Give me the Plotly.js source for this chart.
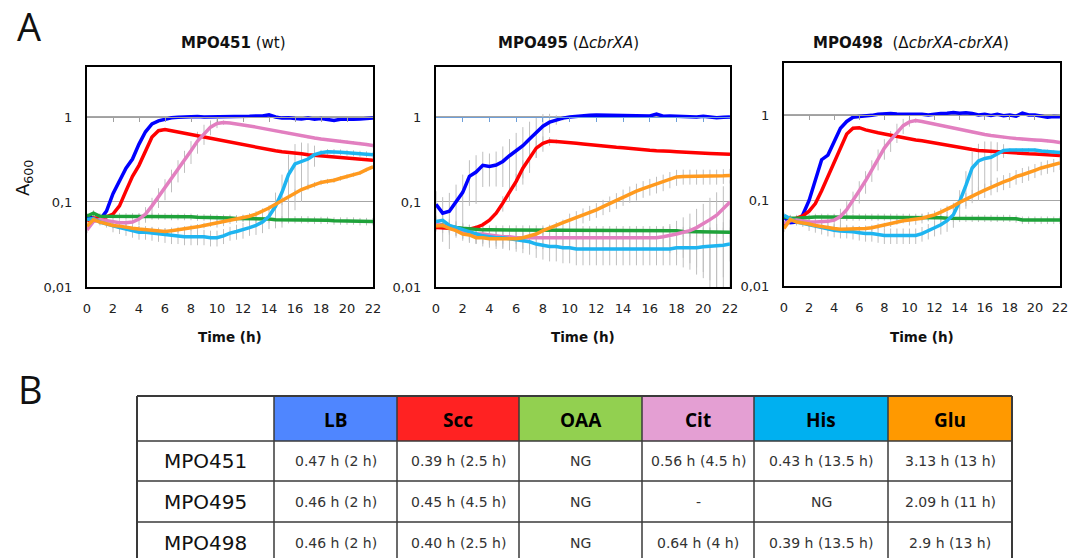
<!DOCTYPE html>
<html><head><meta charset="utf-8">
<script src="https://cdn.plot.ly/plotly-3.0.1.min.js"></script>
<style>html,body{margin:0;padding:0;background:#fff;}#chart{width:1083px;height:558px;}</style>
</head><body><div id="chart"></div>
<script>
// ---------- DATA ----------
const T = [0,0.5,1,1.5,2,2.5,3,3.5,4,4.5,5,5.5,6,6.5,7,7.5,8,8.5,9,9.5,10,10.5,11,11.5,12,12.5,13,13.5,14,14.5,15,15.5,16,16.5,17,17.5,18,18.5,19,19.5,20,20.5,21,21.5,22];
const xTickVals = [0,2,4,6,8,10,12,14,16,18,20,22];
const yTickVals = [0.01,0.1,1];
const yTickText = ['0,01','0,1','1'];
const media = ['LB','Scc','OAA','Cit','His','Glu'];
const mediaColors = ['#0000ff','#ff0000','#1fa23a','#e27fc0','#1eb4f0','#ff9a1f'];
const headerColors = ['#ffffff','#4f86ff','#ff2222','#92d050','#e49fd3','#00b0f0','#ff9900'];
const panelTitles = ['<b>MPO451</b> (wt)','<b>MPO495</b> (\u0394<i>cbrXA</i>)','<b>MPO498</b>\u00a0\u00a0(\u0394<i>cbrXA-cbrXA</i>)'];

// Panel 1: MPO451 (wt)
const p1_LB  = [0.068,0.064,0.062,0.078,0.125,0.18,0.25,0.32,0.48,0.67,0.83,0.9,0.95,0.98,0.99,1.0,1.0,1.01,1.0,1.0,1.0,1.01,1.0,1.02,1.0,1.02,1.03,1.03,1.06,1.0,0.97,0.98,0.96,0.95,0.97,0.94,0.96,0.93,0.91,0.94,0.93,0.94,0.95,0.96,0.97];
const p1_Scc = [0.06,0.065,0.065,0.067,0.072,0.09,0.135,0.2,0.27,0.4,0.58,0.69,0.71,0.69,0.67,0.65,0.63,0.6,0.58,0.56,0.54,0.52,0.5,0.485,0.47,0.455,0.44,0.425,0.41,0.4,0.39,0.385,0.38,0.37,0.36,0.355,0.35,0.348,0.345,0.34,0.33,0.325,0.32,0.315,0.31];
const p1_OAA = [0.068,0.074,0.068,0.068,0.068,0.068,0.068,0.068,0.068,0.068,0.068,0.068,0.068,0.067,0.067,0.067,0.067,0.066,0.066,0.066,0.065,0.065,0.065,0.064,0.064,0.064,0.063,0.063,0.063,0.062,0.062,0.062,0.062,0.062,0.062,0.061,0.061,0.061,0.06,0.06,0.06,0.06,0.059,0.059,0.059];
const p1_Cit = [0.047,0.059,0.062,0.06,0.058,0.057,0.057,0.058,0.063,0.072,0.09,0.115,0.145,0.185,0.24,0.31,0.4,0.52,0.64,0.76,0.84,0.86,0.85,0.83,0.81,0.785,0.76,0.735,0.71,0.685,0.66,0.64,0.62,0.6,0.58,0.565,0.55,0.54,0.53,0.52,0.51,0.5,0.49,0.475,0.46];
const p1_His = [0.062,0.064,0.058,0.055,0.052,0.05,0.048,0.046,0.044,0.044,0.043,0.042,0.041,0.04,0.04,0.039,0.039,0.039,0.039,0.038,0.038,0.04,0.043,0.045,0.047,0.05,0.053,0.058,0.068,0.089,0.13,0.21,0.28,0.3,0.32,0.36,0.38,0.39,0.39,0.385,0.38,0.375,0.37,0.365,0.36];
const p1_Glu = [0.052,0.062,0.058,0.055,0.053,0.052,0.05,0.049,0.048,0.047,0.046,0.045,0.045,0.046,0.047,0.048,0.05,0.051,0.053,0.055,0.056,0.058,0.061,0.063,0.065,0.068,0.072,0.078,0.085,0.094,0.104,0.115,0.128,0.14,0.15,0.16,0.17,0.175,0.18,0.19,0.2,0.21,0.22,0.24,0.26];
const p1_errCit = [0.004,0.004,0.004,0.004,0.004,0.004,0.004,0.004,0.01,0.015,0.022,0.03,0.04,0.055,0.07,0.09,0.12,0.15,0.17,0.15,0.1,0.05,0.02,0.02,0.02,0.02,0.02,0.02,0.02,0.02,0.02,0.02,0.02,0.02,0.02,0.02,0.02,0.02,0.02,0.02,0.02,0.02,0.02,0.02,0.02];
const p1_errHis = [0.005,0.005,0.005,0.005,0.008,0.008,0.008,0.008,0.008,0.008,0.008,0.008,0.008,0.008,0.008,0.008,0.008,0.008,0.008,0.008,0.008,0.008,0.008,0.009,0.01,0.01,0.012,0.015,0.02,0.04,0.08,0.15,0.2,0.2,0.17,0.1,0.03,0.03,0.03,0.03,0.03,0.03,0.03,0.03,0.03];
const p1_errGlu = [0.004,0.004,0.004,0.004,0.004,0.004,0.004,0.004,0.004,0.004,0.004,0.004,0.004,0.004,0.004,0.004,0.004,0.004,0.004,0.004,0.006,0.006,0.006,0.006,0.006,0.006,0.006,0.006,0.006,0.006,0.012,0.012,0.012,0.012,0.012,0.012,0.012,0.012,0.012,0.012,0.012,0.012,0.012,0.012,0.012];

// Panel 2: MPO495 (ΔcbrXA)
const p2_LB  = [0.094,0.074,0.078,0.1,0.13,0.2,0.225,0.27,0.262,0.272,0.3,0.35,0.4,0.46,0.55,0.66,0.78,0.87,0.93,0.97,1.0,1.02,1.04,1.05,1.055,1.05,1.05,1.04,1.03,1.03,1.03,1.03,1.03,1.08,1.02,1.03,1.02,1.02,1.01,1.0,1.02,0.99,0.98,0.99,1.0];
const p2_Scc = [0.05,0.05,0.049,0.048,0.048,0.048,0.05,0.054,0.061,0.074,0.097,0.13,0.175,0.25,0.33,0.43,0.49,0.52,0.515,0.51,0.5,0.49,0.48,0.47,0.46,0.45,0.445,0.44,0.435,0.425,0.42,0.41,0.405,0.4,0.4,0.395,0.39,0.385,0.38,0.38,0.377,0.373,0.37,0.367,0.365];
const p2_OAA = [0.055,0.053,0.051,0.05,0.049,0.048,0.047,0.047,0.047,0.047,0.047,0.047,0.047,0.047,0.047,0.047,0.047,0.046,0.046,0.046,0.046,0.046,0.046,0.046,0.046,0.046,0.046,0.046,0.046,0.046,0.046,0.046,0.046,0.046,0.046,0.046,0.046,0.045,0.045,0.045,0.044,0.044,0.044,0.044,0.044];
const p2_Cit = [0.055,0.053,0.051,0.048,0.045,0.043,0.042,0.042,0.041,0.04,0.039,0.039,0.038,0.038,0.038,0.038,0.038,0.038,0.038,0.038,0.038,0.038,0.038,0.038,0.038,0.038,0.038,0.038,0.038,0.038,0.038,0.038,0.038,0.038,0.039,0.04,0.042,0.044,0.046,0.05,0.055,0.062,0.07,0.083,0.1];
const p2_His = [0.059,0.061,0.053,0.05,0.047,0.044,0.042,0.04,0.039,0.038,0.038,0.037,0.036,0.035,0.034,0.032,0.031,0.03,0.03,0.029,0.029,0.028,0.028,0.028,0.028,0.028,0.028,0.028,0.028,0.028,0.028,0.028,0.028,0.028,0.028,0.028,0.029,0.029,0.029,0.029,0.0297,0.03,0.031,0.031,0.032];
const p2_Glu = [0.052,0.053,0.049,0.046,0.042,0.041,0.038,0.038,0.037,0.037,0.037,0.037,0.037,0.038,0.04,0.042,0.046,0.049,0.053,0.057,0.061,0.065,0.07,0.075,0.081,0.088,0.096,0.105,0.115,0.125,0.134,0.144,0.153,0.162,0.172,0.185,0.197,0.2,0.2,0.2,0.2,0.2,0.2,0.203,0.205];
const p2_errLB  = [0.04,0.04,0.05,0.06,0.08,0.11,0.13,0.12,0.11,0.12,0.15,0.2,0.25,0.3,0.33,0.33,0.3,0.22,0.12,0.06,0.02,0.02,0.02,0.02,0.02,0.02,0.02,0.02,0.02,0.02,0.02,0.02,0.02,0.02,0.02,0.02,0.02,0.02,0.02,0.02,0.02,0.02,0.02,0.02,0.02];
const p2_errScc = [0.003,0.003,0.003,0.003,0.003,0.003,0.003,0.003,0.003,0.003,0.02,0.03,0.04,0.06,0.08,0.1,0.1,0.06,0.03,0.01,0.01,0.01,0.01,0.01,0.01,0.01,0.01,0.01,0.01,0.01,0.01,0.01,0.01,0.01,0.01,0.01,0.01,0.01,0.01,0.01,0.01,0.01,0.01,0.01,0.01];
const p2_errCit = [0.01,0.01,0.01,0.01,0.01,0.01,0.01,0.01,0.01,0.01,0.01,0.01,0.01,0.01,0.01,0.01,0.01,0.01,0.01,0.01,0.01,0.01,0.01,0.01,0.01,0.01,0.01,0.01,0.01,0.01,0.01,0.01,0.01,0.01,0.012,0.015,0.018,0.022,0.027,0.033,0.04,0.05,0.06,0.07,0.08];
const p2_errHis = [0.01,0.01,0.01,0.01,0.01,0.01,0.01,0.01,0.01,0.01,0.01,0.01,0.01,0.01,0.01,0.01,0.01,0.01,0.01,0.01,0.01,0.01,0.01,0.01,0.01,0.01,0.01,0.01,0.01,0.01,0.01,0.01,0.01,0.01,0.01,0.01,0.011,0.012,0.013,0.015,0.017,0.02,0.024,0.027,0.03];
const p2_errGlu = [0.005,0.005,0.005,0.005,0.005,0.005,0.005,0.005,0.005,0.005,0.005,0.005,0.005,0.005,0.005,0.005,0.005,0.005,0.005,0.005,0.012,0.013,0.014,0.015,0.016,0.018,0.02,0.022,0.025,0.027,0.03,0.032,0.034,0.036,0.038,0.04,0.042,0.04,0.04,0.04,0.04,0.04,0.04,0.04,0.04];

// Panel 3: MPO498 (ΔcbrXA-cbrXA)
const p3_LB  = [0.064,0.055,0.056,0.068,0.1,0.17,0.3,0.34,0.5,0.7,0.84,0.94,0.96,0.97,0.99,1.02,1.04,1.04,1.03,1.03,1.03,1.02,1.02,1.0,1.03,1.04,1.05,1.07,1.05,1.06,1.04,1.0,1.02,0.99,1.02,0.98,1.0,0.97,1.05,1.0,1.0,0.96,0.94,0.96,0.955];
const p3_Scc = [0.05,0.059,0.062,0.066,0.075,0.092,0.13,0.19,0.285,0.42,0.6,0.7,0.71,0.67,0.64,0.62,0.6,0.58,0.56,0.54,0.52,0.51,0.5,0.485,0.47,0.455,0.44,0.425,0.41,0.4,0.395,0.385,0.38,0.375,0.37,0.365,0.36,0.357,0.355,0.352,0.35,0.345,0.34,0.337,0.335];
const p3_OAA = [0.064,0.062,0.062,0.063,0.064,0.064,0.064,0.064,0.064,0.064,0.064,0.064,0.064,0.064,0.064,0.064,0.064,0.064,0.064,0.064,0.064,0.064,0.064,0.064,0.064,0.063,0.062,0.062,0.062,0.062,0.062,0.062,0.062,0.062,0.062,0.062,0.062,0.061,0.059,0.059,0.059,0.059,0.059,0.059,0.059];
const p3_Cit = [0.054,0.058,0.059,0.057,0.056,0.056,0.056,0.057,0.059,0.065,0.078,0.099,0.13,0.17,0.23,0.31,0.41,0.51,0.63,0.75,0.83,0.86,0.84,0.81,0.785,0.76,0.73,0.7,0.67,0.65,0.63,0.61,0.59,0.575,0.56,0.55,0.54,0.53,0.52,0.515,0.51,0.505,0.5,0.49,0.475];
const p3_His = [0.067,0.062,0.056,0.054,0.052,0.05,0.048,0.046,0.045,0.044,0.044,0.043,0.042,0.041,0.041,0.04,0.039,0.039,0.039,0.039,0.039,0.039,0.041,0.044,0.048,0.052,0.058,0.068,0.097,0.15,0.24,0.29,0.31,0.32,0.35,0.385,0.39,0.39,0.39,0.39,0.39,0.38,0.375,0.37,0.365];
const p3_Glu = [0.047,0.06,0.056,0.055,0.053,0.051,0.05,0.048,0.047,0.046,0.046,0.046,0.046,0.047,0.048,0.05,0.051,0.053,0.056,0.058,0.059,0.06,0.062,0.065,0.068,0.073,0.079,0.086,0.095,0.104,0.113,0.122,0.132,0.143,0.155,0.165,0.175,0.19,0.2,0.21,0.225,0.24,0.25,0.26,0.275];
const p3_errCit = [0.004,0.004,0.004,0.004,0.004,0.004,0.004,0.004,0.01,0.015,0.02,0.028,0.038,0.05,0.065,0.085,0.11,0.14,0.16,0.15,0.1,0.05,0.02,0.02,0.02,0.02,0.02,0.02,0.02,0.02,0.02,0.02,0.02,0.02,0.02,0.02,0.02,0.02,0.02,0.02,0.02,0.02,0.02,0.02,0.02];
const p3_errHis = [0.005,0.005,0.005,0.005,0.008,0.008,0.008,0.008,0.008,0.008,0.008,0.008,0.008,0.008,0.008,0.008,0.008,0.008,0.008,0.008,0.008,0.008,0.008,0.009,0.01,0.012,0.015,0.02,0.035,0.07,0.13,0.17,0.18,0.17,0.13,0.07,0.02,0.02,0.02,0.02,0.02,0.02,0.02,0.02,0.02];
const p3_errGlu = [0.004,0.004,0.004,0.004,0.004,0.004,0.004,0.004,0.004,0.004,0.004,0.004,0.004,0.004,0.004,0.004,0.004,0.004,0.004,0.004,0.008,0.008,0.008,0.008,0.008,0.008,0.008,0.008,0.015,0.018,0.02,0.022,0.025,0.028,0.03,0.033,0.035,0.037,0.04,0.04,0.042,0.043,0.045,0.046,0.048];
const errOAA = 0.006;

// Table (B)
const strains = ['MPO451','MPO495','MPO498'];
const tblLB  = ['0.47 h (2 h)','0.46 h (2 h)','0.46 h (2 h)'];
const tblScc = ['0.39 h (2.5 h)','0.45 h (4.5 h)','0.40 h (2.5 h)'];
const tblOAA = ['NG','NG','NG'];
const tblCit = ['0.56 h (4.5 h)','-','0.64 h (4 h)'];
const tblHis = ['0.43 h (13.5 h)','NG','0.39 h (13.5 h)'];
const tblGlu = ['3.13 h (13 h)','2.09 h (11 h)','2.9 h (13 h)'];

// ---------- BUILD ----------
const W = 1083, H = 558;
const panels = [
  {series:[p1_LB,p1_Scc,p1_OAA,p1_Cit,p1_His,p1_Glu], errs:[null,null,null,p1_errCit,p1_errHis,p1_errGlu],
   x:[87,373], y:[67,287], yTop:0.588, refColor:'#a0a0a0'},
  {series:[p2_LB,p2_Scc,p2_OAA,p2_Cit,p2_His,p2_Glu], errs:[p2_errLB,p2_errScc,null,p2_errCit,p2_errHis,p2_errGlu],
   x:[436,730], y:[67,287], yTop:0.588, refColor:'#6f9fd8'},
  {series:[p3_LB,p3_Scc,p3_OAA,p3_Cit,p3_His,p3_Glu], errs:[null,null,null,p3_errCit,p3_errHis,p3_errGlu],
   x:[784,1060], y:[63,286], yTop:0.608, refColor:'#a0a0a0'}
];

const traces = [];
const layout = {
  width: W, height: H, margin:{l:0,r:0,t:0,b:0},
  paper_bgcolor:'#fff', plot_bgcolor:'#fff', showlegend:false,
  annotations:[], shapes:[], font:{family:'DejaVu Sans', color:'#222'}
};

panels.forEach((p, i) => {
  const n = i + 1;
  const xa = 'x' + (n === 1 ? '' : n), ya = 'y' + (n === 1 ? '' : n);
  const xd = [p.x[0]/W, p.x[1]/W];
  const yd = [1 - p.y[1]/H, 1 - p.y[0]/H];
  const yRange = [-2, p.yTop];
  p.series.forEach((s, k) => {
    const ey = p.errs[k] ? {type:'data', array:p.errs[k], visible:true, color:'#bfbfbf', thickness:1, width:0}
                         : (k === 2 ? {type:'constant', value:errOAA, visible:true, color:'#bfbfbf', thickness:1, width:0} : null);
    if (ey) traces.push({x:T, y:s, xaxis:xa, yaxis:ya, type:'scatter', mode:'markers',
      marker:{size:1, opacity:0}, error_y:ey, hoverinfo:'skip', showlegend:false});
  });
  p.series.forEach((s, k) => {
    traces.push({x:T, y:s, xaxis:xa, yaxis:ya, type:'scatter', mode:'lines', name:media[k],
      line:{color:mediaColors[k], width:3.5}, showlegend:false});
  });
  layout['xaxis' + (n === 1 ? '' : n)] = {
    domain:xd, anchor:ya, range:[0,22], tickvals:xTickVals, ticks:'', showgrid:false, zeroline:false,
    showline:true, mirror:true, linecolor:'#000', linewidth:2,
    tickfont:{family:'DejaVu Sans', size:13, color:'#222'}, ticklabelstandoff:8
  };
  layout['yaxis' + (n === 1 ? '' : n)] = {
    domain:yd, anchor:xa, type:'log', range:yRange, tickvals:yTickVals, ticktext:yTickText,
    ticks:'', showgrid:true, gridcolor:'#a6a6a6', gridwidth:1, zeroline:false,
    showline:true, mirror:true, linecolor:'#000', linewidth:2,
    tickfont:{family:'DejaVu Sans', size:13, color:'#222'}, ticklabelstandoff:10
  };
  // Excel-style category axis crossing at A600 = 1 (tick marks hanging below the 1 line)
  const ov = 'xaxis' + (n + 3);
  const pos = yd[0] + (0 - yRange[0]) / (yRange[1] - yRange[0]) * (yd[1] - yd[0]);
  layout[ov] = {overlaying:xa, anchor:'free', position:pos, side:'bottom', range:[0,22], domain:xd,
    tickvals:xTickVals.slice(1, -1), ticks:'outside', ticklen:4, tickcolor:p.refColor, tickwidth:1,
    showticklabels:false, showgrid:false, zeroline:false, showline:true, linecolor:p.refColor, linewidth:1};
  traces.push({x:[null], y:[null], xaxis:'x' + (n + 3), yaxis:ya, type:'scatter', mode:'lines', showlegend:false, hoverinfo:'skip'});

  const cx = (p.x[0] + p.x[1]) / 2 / W;
  const titleX = [233, 568, 911][i] / W;
  layout.annotations.push({text:panelTitles[i], xref:'paper', yref:'paper', x:titleX, y:1 - 43/H,
    xanchor:'center', yanchor:'middle', showarrow:false, font:{family:'DejaVu Sans', size:15, color:'#111'}});
  layout.annotations.push({text:'<b>Time (h)</b>', xref:'paper', yref:'paper', x:cx, y:1 - 337/H,
    xanchor:'center', yanchor:'middle', showarrow:false, font:{family:'DejaVu Sans', size:13.5, color:'#111'}});
});

layout.annotations.push({text:'A<sub>600</sub>', xref:'paper', yref:'paper', x:24/W, y:1 - 178/H, textangle:-90,
  xanchor:'center', yanchor:'middle', showarrow:false, font:{family:'DejaVu Sans', size:18, color:'#111'}});
layout.annotations.push({text:'A', xref:'paper', yref:'paper', x:29/W, y:1 - 26/H,
  xanchor:'center', yanchor:'middle', showarrow:false, font:{family:'Open Sans', size:38, color:'#111'}});
layout.annotations.push({text:'B', xref:'paper', yref:'paper', x:30/W, y:1 - 389/H,
  xanchor:'center', yanchor:'middle', showarrow:false, font:{family:'Open Sans', size:38, color:'#111'}});

// ---------- Table B (built from the arrays above) ----------
const colEdges = [137,274,397,519,642,754,888,1012];   // layout (px)
const rowEdges = [396,441,481,522,563];                 // layout (px); last row is cut by the page edge
const headerTexts = [''].concat(media);
const bodyCols = [strains, tblLB, tblScc, tblOAA, tblCit, tblHis, tblGlu];
const px = v => v / W, py = v => 1 - v / H;
for (let c = 0; c < headerTexts.length; c++) {
  const x0 = colEdges[c], x1 = colEdges[c + 1];
  layout.shapes.push({type:'rect', xref:'paper', yref:'paper', x0:px(x0), x1:px(x1), y0:py(rowEdges[0]), y1:py(rowEdges[1]),
    fillcolor:headerColors[c], line:{width:0}, layer:'below'});
  if (headerTexts[c]) layout.annotations.push({text:'<b>' + headerTexts[c] + '</b>', xref:'paper', yref:'paper',
    x:px((x0 + x1) / 2), y:py((rowEdges[0] + rowEdges[1]) / 2 + 1), xanchor:'center', yanchor:'middle', showarrow:false,
    font:{family:'Open Sans', size:19, color:'#000'}});
  for (let r = 0; r < strains.length; r++) {
    const yc = (rowEdges[r + 1] + rowEdges[r + 2]) / 2;
    layout.annotations.push({text:bodyCols[c][r], xref:'paper', yref:'paper', x:px((x0 + x1) / 2), y:py(yc),
      xanchor:'center', yanchor:'middle', showarrow:false,
      font:c === 0 ? {family:'DejaVu Sans', size:20, color:'#111'} : {family:'DejaVu Sans', size:14, color:'#333'}});
  }
}
colEdges.forEach((x, j) => layout.shapes.push({type:'line', xref:'paper', yref:'paper', x0:px(x), x1:px(x),
  y0:py(rowEdges[0]), y1:py(rowEdges[rowEdges.length - 1]), line:{color:'#3a3a3a', width:(j === 0 || j === colEdges.length - 1) ? 2 : 1.5}}));
rowEdges.forEach((y, j) => layout.shapes.push({type:'line', xref:'paper', yref:'paper', x0:px(colEdges[0]), x1:px(colEdges[colEdges.length - 1]),
  y0:py(y), y1:py(y), line:{color:'#3a3a3a', width:j === 0 ? 2 : 1.5}}));

Plotly.newPlot('chart', traces, layout, {staticPlot:true, displayModeBar:false});
</script></body></html>
